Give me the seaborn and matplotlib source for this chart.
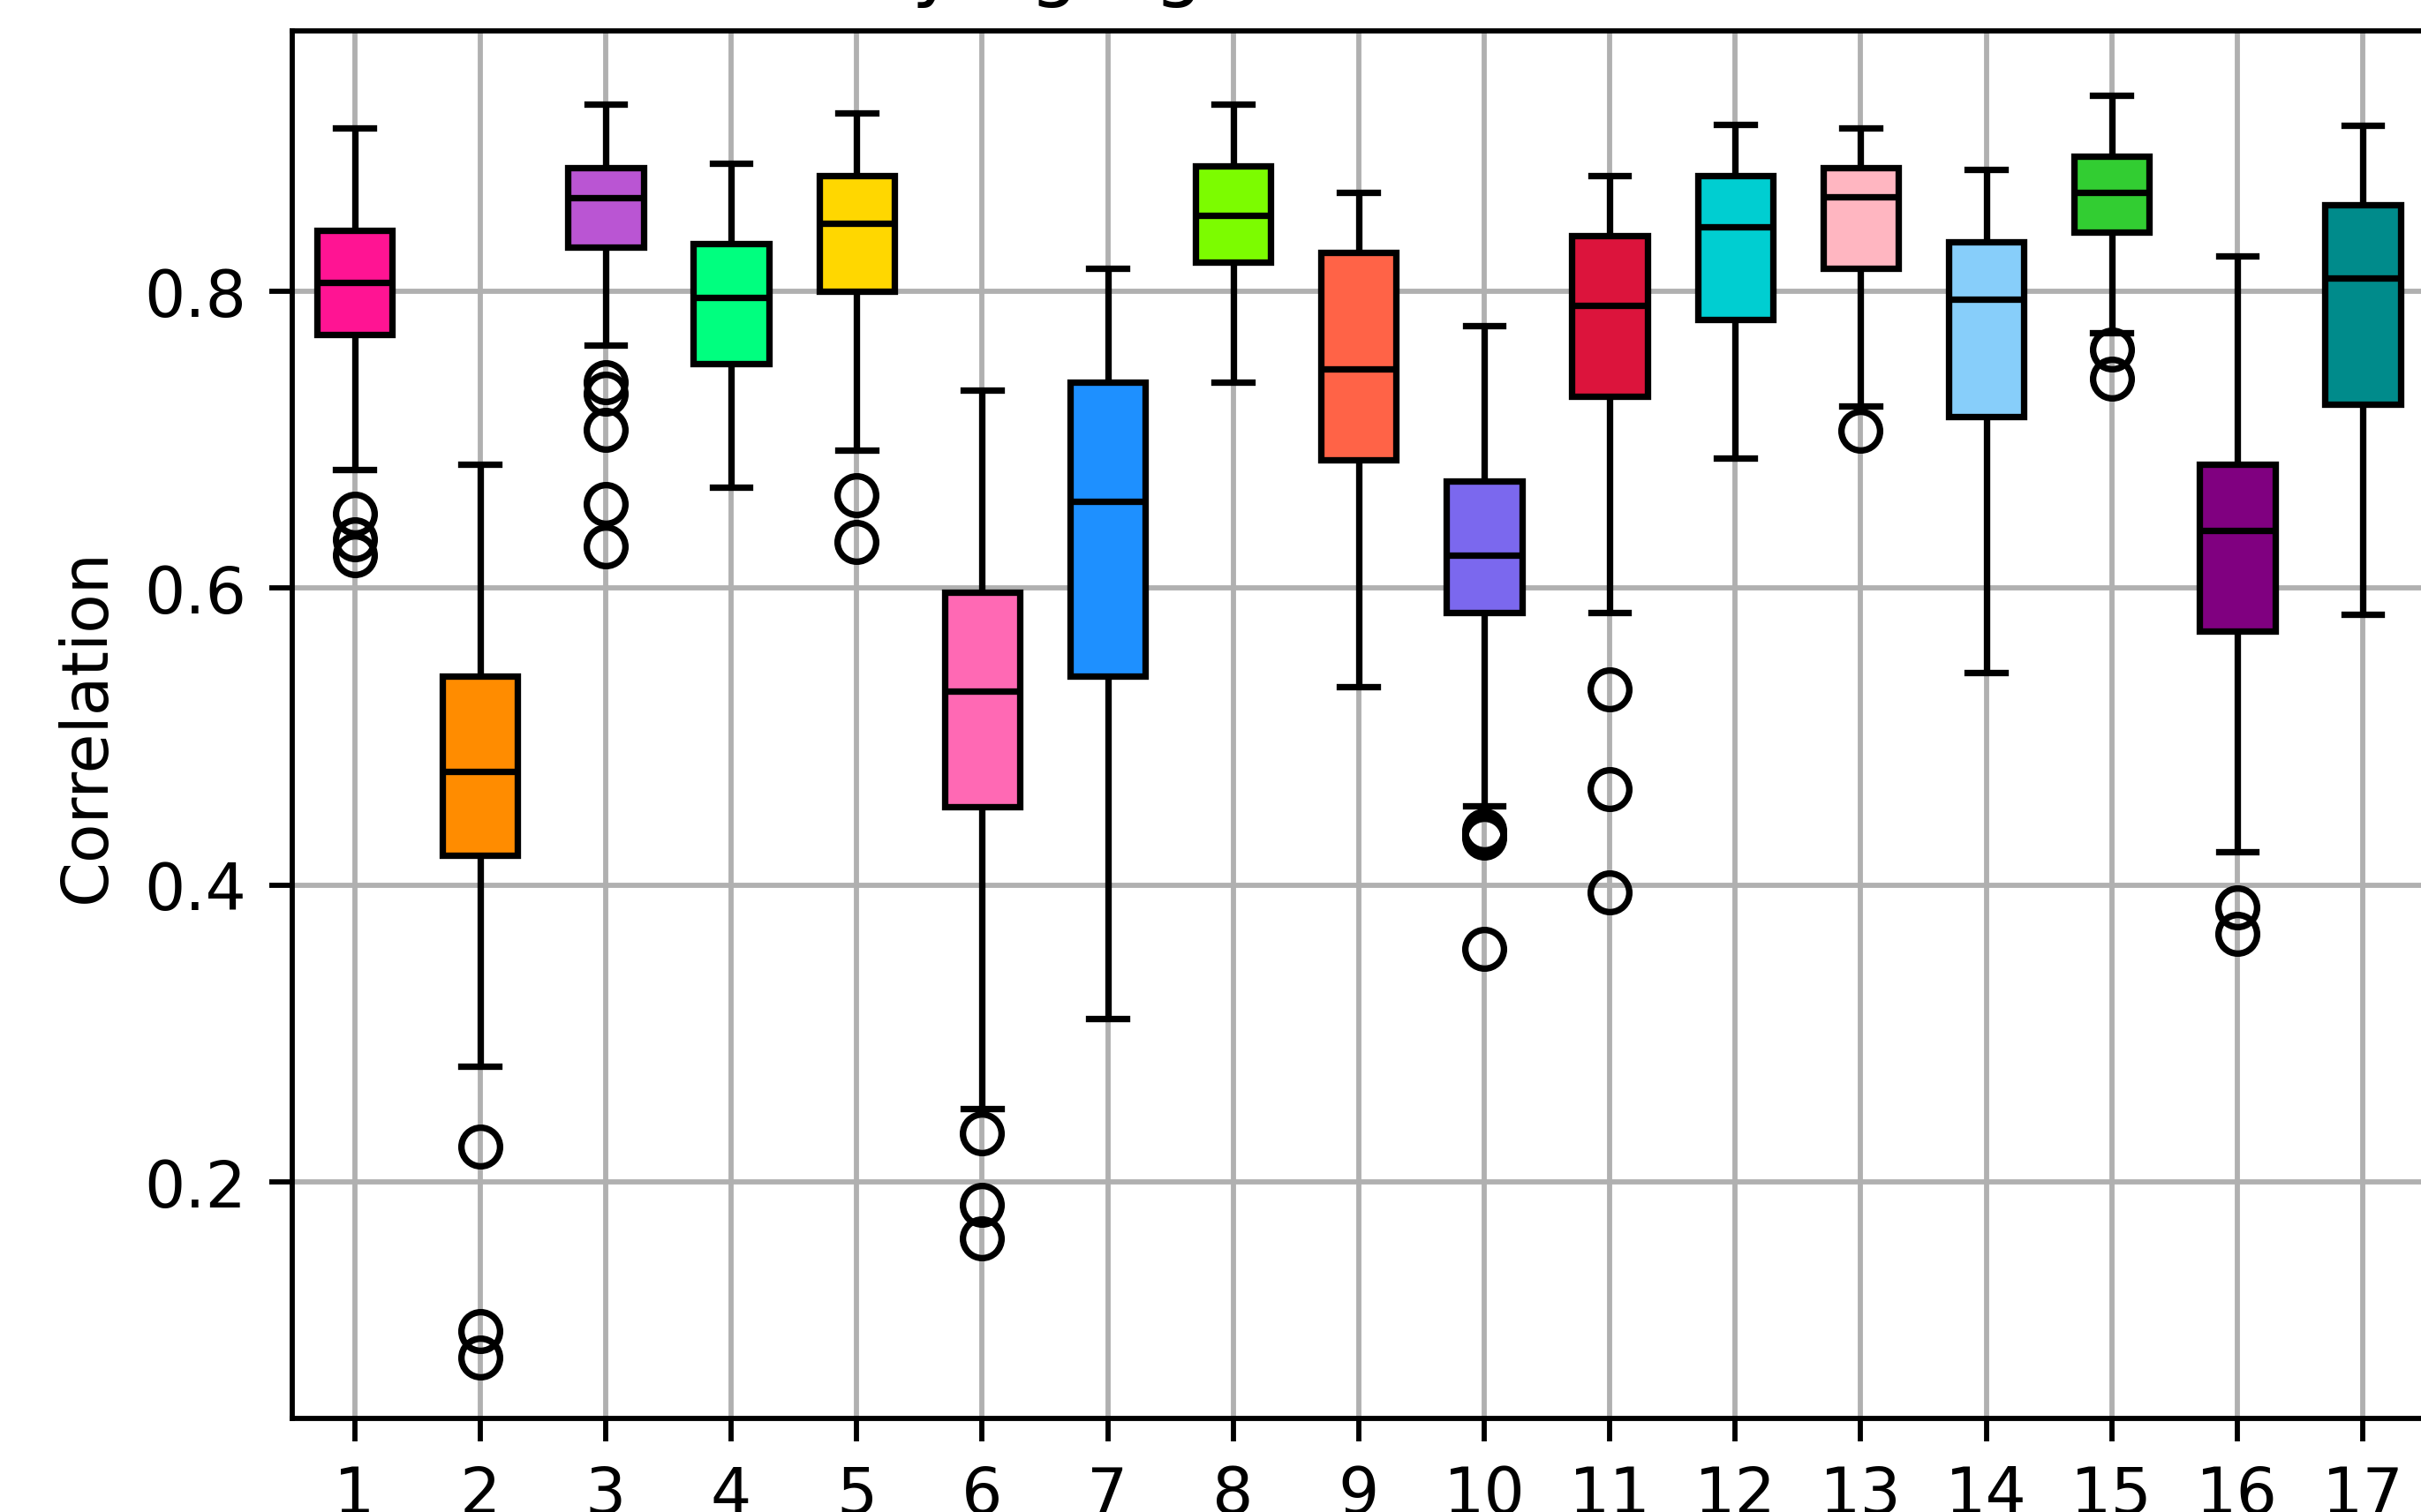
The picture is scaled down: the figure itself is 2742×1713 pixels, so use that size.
import numpy as np
import pandas as pd
import matplotlib
matplotlib.use("Agg")
import matplotlib.pyplot as plt
import seaborn as sns


# five-number summaries (one entry per box)
groups = list(range(1, 18))

whisker_low = [0.680, 0.278, 0.7635, 0.668, 0.693, 0.2498, 0.310, 0.7386, 0.5337,
               0.4537, 0.5837, 0.6877, 0.723, 0.5431, 0.772, 0.4225, 0.5826]
q1 = [0.771, 0.420, 0.830, 0.751, 0.800, 0.4526, 0.541, 0.8198, 0.6866,
      0.5837, 0.7293, 0.7813, 0.8156, 0.7158, 0.840, 0.5712, 0.7241]
median = [0.806, 0.4766, 0.863, 0.796, 0.8456, 0.5306, 0.6586, 0.851, 0.748,
          0.6222, 0.7906, 0.8437, 0.8634, 0.7948, 0.8666, 0.6388, 0.8087]
q3 = [0.841, 0.541, 0.883, 0.832, 0.878, 0.5972, 0.7386, 0.8842, 0.826,
      0.672, 0.8374, 0.878, 0.8832, 0.8333, 0.891, 0.6835, 0.8582]
whisker_high = [0.910, 0.6835, 0.926, 0.886, 0.920, 0.7334, 0.8156, 0.9258, 0.8666,
                0.7771, 0.878, 0.9123, 0.9102, 0.8822, 0.9321, 0.8239, 0.9118]

fliers = [
    [0.650, 0.633, 0.622],
    [0.224, 0.100, 0.082],
    [0.739, 0.731, 0.707, 0.657, 0.628],
    [],
    [0.663, 0.631],
    [0.233, 0.185, 0.162],
    [],
    [],
    [],
    [0.437, 0.434, 0.432, 0.357],
    [0.532, 0.465, 0.395],
    [],
    [0.706],
    [],
    [0.761, 0.741],
    [0.385, 0.367],
    [],
]

colors = ["#FF1493", "#FF8C00", "#BA55D3", "#00FF7F", "#FFD700", "#FF69B4",
          "#1E90FF", "#7CFC00", "#FF6347", "#7B68EE", "#DC143C", "#00CED1",
          "#FFB6C1", "#87CEFA", "#32CD32", "#800080", "#008B8B"]


def sample_from_summary(lo, a, m, b, hi, out):
    # observations whose quartiles / whiskers / outliers reproduce the summary
    t = len(out) + 1
    low_tail = sorted(out) + [lo]
    high_tail = [hi] * t
    k = t + 1
    return low_tail + [a] * k + [m] + [b] * k + high_tail


rows = []
for i, g in enumerate(groups):
    vals = sample_from_summary(
        whisker_low[i], q1[i], median[i], q3[i], whisker_high[i], fliers[i]
    )
    rows += [(g, v) for v in vals]

df = pd.DataFrame(rows, columns=["group", "value"])

dpi = 525
fig = plt.figure(figsize=(2742.5 / dpi, 1713.5 / dpi), dpi=dpi)
ax = fig.add_axes([0.12053, 0.06158, 0.88114, 0.91798])

sns.boxplot(
    data=df,
    x="group",
    y="value",
    hue="group",
    palette=colors,
    legend=False,
    saturation=1,
    width=0.6,
    linecolor="black",
    linewidth=1.0,
    flierprops=dict(
        marker="o",
        markerfacecolor="none",
        markeredgecolor="black",
        markersize=6,
        markeredgewidth=1.0,
    ),
    ax=ax,
)

ax.grid(True, color="#b0b0b0", linewidth=0.8)
ax.set_axisbelow("line")
ax.set_ylim(0.0406, 0.9757)
ax.set_xlabel("")
ax.set_ylabel("Correlation")
ax.set_title("Correlation by age-gender cohort across all trials")

plt.savefig("out.png", dpi=dpi)
